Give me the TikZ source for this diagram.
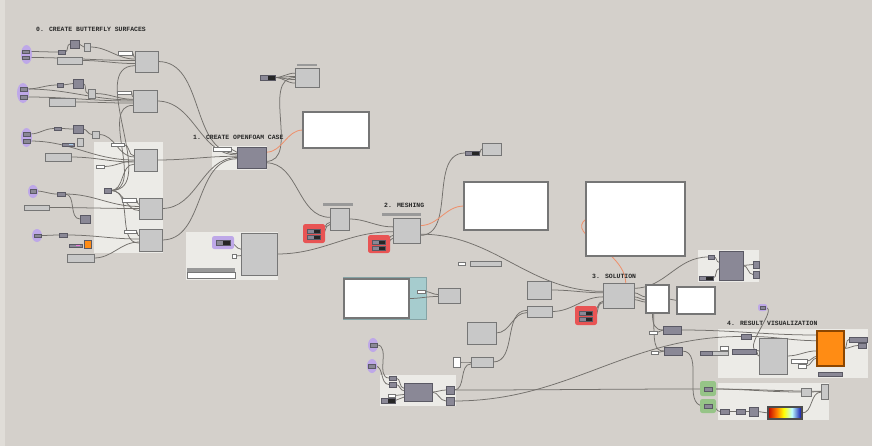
\documentclass[tikz,border=0pt]{standalone}
\usepackage{fontspec}
\newfontfamily\ghfont{Liberation Mono}
\usetikzlibrary{fit,calc}
\definecolor{CanvasGray}{RGB}{212,208,203}
\definecolor{CanvasEdge}{RGB}{224,221,216}
\definecolor{GroupWhite}{RGB}{236,235,231}
\definecolor{CompGray}{RGB}{200,200,200}
\definecolor{CompEdge}{RGB}{118,118,118}
\definecolor{ParamDark}{RGB}{138,136,150}
\definecolor{ParamEdge}{RGB}{90,89,100}
\definecolor{WireGray}{RGB}{115,112,108}
\definecolor{WireOrange}{RGB}{238,144,108}
\definecolor{HiPurple}{RGB}{190,168,232}
\definecolor{HiRed}{RGB}{232,84,84}
\definecolor{HiGreen}{RGB}{150,196,135}
\definecolor{ScriptTeal}{RGB}{166,204,206}
\definecolor{PreviewOrange}{RGB}{255,140,20}
\definecolor{TipBlue}{RGB}{170,210,240}
\definecolor{TipPink}{RGB}{240,120,220}
\pgfdeclarehorizontalshading{heatmap}{100bp}{color(0bp)=(red!75!black); color(25bp)=(red!75!black); color(38bp)=(orange); color(48bp)=(yellow); color(60bp)=(cyan!25); color(75bp)=(blue!65!black); color(100bp)=(blue!65!black)}
\pgfdeclarelayer{panels}
\pgfdeclarelayer{wires}
\pgfsetlayers{panels,wires,main}

\begin{document}
\begin{tikzpicture}[x=.03cm,y=-.03cm,
  box/.style={inner sep=0,outer sep=0,line width=.7pt},
  comp/.style={box,draw=CompEdge,fill=CompGray},
  dark/.style={box,draw=ParamEdge,fill=ParamDark},
  toggle/.style={dark,path picture={\fill[black!85] (path picture bounding box.north) rectangle (path picture bounding box.south east);}},
  field/.style={box,draw=CompEdge,fill=white},
  panel/.style={box,draw=CompEdge,fill=white,line width=.9pt},
  tagbar/.style={box,fill=black!40},
  group/.style={box,fill=GroupWhite},
  hilite/.style={box,fill=#1,rounded corners=2pt},
  wire/.style={draw=WireGray,line width=.65pt},
  owire/.style={draw=WireOrange,line width=.7pt},
  title/.style={inner sep=0,anchor=west,text=black!85,font=\ghfont\bfseries\fontsize{5.5}{6}\selectfont}]
\useasboundingbox (0,0) rectangle (872,446);

% canvas and groups
\begin{pgfonlayer}{panels}
  \fill[CanvasGray] (0,0) rectangle (872,446);
  \fill[CanvasEdge] (0,0) rectangle (5,446);
  \foreach \n/\xa/\ya/\xb/\yb in {grpA/94/142/163/253, grpC/212/146/267/170, grpL/186/232/278/280,
      grpS/698/250/759/282, grpR/718/329/868/378, grpG/718/383/829/420, grpW/380/375/456/406}
    \node[group,fit={(\xa,\ya)(\xb,\yb)}] (\n) {};
  \node[box,fill=ScriptTeal,draw=ScriptTeal!80!black,fit={(343,277)(426,319)}] (teal) {};
\end{pgfonlayer}

% titles
\node[title] (t0) at (36,29) {0. CREATE BUTTERFLY SURFACES};
\node[title] (t1) at (193,137) {1. CREATE OPENFOAM CASE};
\node[title] (t2) at (384,205) {2. MESHING};
\node[title] (t3) at (592,276) {3. SOLUTION};
\node[title] (t4) at (727,323) {4. RESULT VISUALIZATION};

% highlighted params
\foreach \x/\y/\rx/\ry in {26.5/54.5/5.5/9.5, 23/93/6/10, 26.5/137.5/5.5/9.5, 33/191.5/5/6.5,
    37/235.5/5/6.5, 373/345/5/7, 372/366/5/7}
  \fill[HiPurple] (\x,\y) ellipse [x radius=\rx, y radius=\ry];
\foreach \n/\c/\xa/\ya/\xb/\yb in {red1/HiRed/303/224/325/243, red2/HiRed/368/235/390/253,
    red3/HiRed/575/306/597/325, llhi/HiPurple/212/236/234/249, phi/HiPurple/758/304/767/311,
    grn1/HiGreen/700/381/716/396, grn2/HiGreen/700/399/716/413}
  \node[hilite=\c,fit={(\xa,\ya)(\xb,\yb)}] (\n) {};

% components
\foreach \n/\xa/\ya/\xb/\yb in {surf1/135/51/158/72, surf2/133/90/157/112, surf3/134/149/157/171,
    surf4/139/198/162/219, surf5/139/229/162/251, lt1/84/43/90/51, lt2/88/89/95/98, lt3/92/131/99/138,
    lt3b/77/138/83/146, lg1/57/57/82/64, lg2/49/98/75/106, lg3/45/153/71/161, lg4/24/205/49/210,
    lg5/67/254/94/262, tlt/295/68/319/87, bigLL/241/233/277/275, prep/330/208/349/230,
    mesh/393/218/420/243, mlt/482/143/501/155, lnum/470/261/501/266, tbox/438/288/460/303,
    s1/527/281/551/299, s2/527/306/552/317, s3/467/322/496/344, s4/471/357/493/367,
    sol/603/283/634/308, rbig/759/338/787/374, gl/801/388/811/396, gt/821/384/828/399,
    rdlb/712/351/728/355}
  \node[comp,fit={(\xa,\ya)(\xb,\yb)}] (\n) {};
\foreach \n/\xa/\ya/\xb/\yb in {e1a/22/50/29/53, e1b/22/56/29/59, sb1/58/50/65/54, dk1/70/40/79/48,
    e2a/20/87/27/91, e2b/20/95/27/99, sb2/57/83/63/87, dk2/73/79/83/88,
    e3a/23/132/30/136, e3b/23/139/30/143, sb3/54/127/61/130, dk3/73/125/83/133, tg3/62/143/74/146,
    sdk/104/188/111/193, e4a/30/189/36/193, sb4/57/192/65/196, dk4/80/215/90/223,
    e5a/34/234/41/237, sb5/59/233/67/237, tg5/69/244/82/247, case/237/147/266/168,
    sdk1/708/255/714/259, sdkb/719/251/743/280, so1/753/261/759/268, so2/753/271/759/278,
    e6a/370/343/377/347, e7a/368/364/375/368, li1/389/376/396/380, li2/389/382/396/387,
    ldk/404/383/432/401, lo1/446/386/454/394, lo2/446/397/454/405, pb/760/306/765/309,
    rd1/663/326/681/334, rd2/664/347/682/355, rsm/741/334/751/339, rlong/732/349/756/354,
    rdl/700/351/712/355, ro1/849/337/867/342, ro2/858/343/866/348, rbar/818/372/842/376,
    g1b/704/387/712/391, g2b/704/404/712/408, gd1/720/409/729/414, gd2/736/409/745/414,
    gd3/749/407/758/416}
  \node[dark,fit={(\xa,\ya)(\xb,\yb)}] (\n) {};
\foreach \n/\xa/\ya/\xb/\yb in {tdk/260/75/275/80, r1a/307/229/320/233, r1b/307/235/320/239,
    r2a/372/240/385/244, r2b/372/246/385/250, r3a/579/311/592/315, r3b/579/317/592/321,
    mdk/465/151/479/155, sblk/699/276/713/280, lblk/381/398/395/403, llp/216/240/230/245}
  \node[toggle,fit={(\xa,\ya)(\xb,\yb)}] (\n) {};
\foreach \n/\xa/\ya/\xb/\yb in {wb1/118/51/132/55, wb2/117/91/131/94, wb3/111/143/124/146,
    wb3b/96/165/104/168, wb4/122/198/136/202, wb5/124/230/136/233, wbc/213/147/231/151,
    wsq/232/254/236/258, llfield/187/272/235/278, wsm/458/262/465/265, wst/417/290/425/293,
    s4w/453/357/460/367, rw1/649/331/657/334, rw2/651/351/658/354, rw3/720/346/728/350,
    rwb1/791/359/807/363, rwb2/798/364/806/368, lw/388/394/395/397}
  \node[field,fit={(\xa,\ya)(\xb,\yb)}] (\n) {};
\foreach \n/\xa/\ya/\xb/\yb in {pan1/303/112/369/148, pan2/464/182/548/230, pan3/586/182/685/256,
    wbx1/646/285/669/313, wbx2/677/287/715/314, tpan/344/279/409/318}
  \node[panel,fit={(\xa,\ya)(\xb,\yb)}] (\n) {};
\foreach \n/\xa/\ya/\xb/\yb in {tbar/297/64/317/66, pbar/323/203/353/206, mbar/382/213/421/216,
    llhdr/187/268/235/272}
  \node[tagbar,fit={(\xa,\ya)(\xb,\yb)}] (\n) {};
\node[box,fill=TipBlue,fit={(69,143.8)(73,145.2)}] (tg3tip) {};
\node[box,fill=TipPink,fit={(76,244.8)(80,246.2)}] (tg5tip) {};
\node[box,fill=PreviewOrange,draw=ParamEdge,fit={(84,240)(91,248)}] (osq) {};
\node[box,fill=PreviewOrange,draw=orange!55!black,line width=.9pt,fit={(817,331)(844,366)}] (orb) {};
\node[box,draw=black!70,line width=1.2pt,shading=heatmap,fit={(768,407)(802,419)}] (grad) {};

% wires
\begin{pgfonlayer}{wires}
  \foreach \a/\b in {e1a.east/sb1.west, sb1.east/dk1.west, dk1.east/lt1.west, e1b.east/surf1.175,
      lg1.east/surf1.190, wb1.east/surf1.160, lt1.east/surf1.168,
      e2a.east/sb2.west, sb2.east/dk2.west, dk2.east/lt2.west, lt2.east/surf2.172, e2b.east/surf2.180,
      lg2.east/surf2.190, wb2.east/surf2.160, e2a.east/surf2.175,
      e3a.east/sb3.west, sb3.east/dk3.west, dk3.east/lt3.west, lt3.east/surf3.165, e3b.east/surf3.180,
      lg3.east/surf3.190, wb3.east/surf3.160, wb3b.east/surf3.185,
      sdk.east/surf1.200, sdk.east/surf2.200, sdk.east/surf3.200, sdk.east/surf4.190, sdk.east/surf5.195,
      e4a.east/sb4.west, sb4.east/dk4.west, sb4.east/surf4.170, lg4.east/surf4.180, wb4.east/surf4.160,
      e5a.east/sb5.west, sb5.east/surf5.175, lg5.east/surf5.190, wb5.east/surf5.160,
      surf1.east/case.165, surf2.east/case.170, surf3.east/case.175, surf4.east/case.180,
      surf5.east/case.185, wbc.east/case.160, case.340/prep.170, case.345/tlt.180,
      tdk.east/tlt.160, tdk.east/tlt.175, tdk.east/tlt.190, tdk.east/tlt.205,
      r1a.east/prep.200, r1b.east/prep.210, prep.east/mesh.165, bigLL.east/mesh.185,
      r2a.east/mesh.200, r2b.east/mesh.210, llp.east/bigLL.165, wsq.east/bigLL.185,
      mesh.340/mdk.west, mdk.east/mlt.west, mesh.345/sol.165,
      wst.east/tbox.175, tpan.east/tbox.185,
      s1.east/sol.170, s2.east/sol.185, r3a.east/sol.200, r3b.east/sol.205, s3.east/s2.185,
      s4.east/s2.175, s4w.east/s4.west, lo1.east/s4.190,
      sol.10/wbx1.170, sol.355/wbx1.185, sol.345/wbx1.195, wbx1.east/wbx2.west, sol.25/sdk1.west,
      sdk1.east/sdkb.165, sblk.east/sdkb.195, sdkb.east/so1.west, sdkb.east/so2.west,
      e6a.east/li1.west, e7a.east/li2.west, li1.east/ldk.165, li2.east/ldk.175, lw.east/ldk.190,
      lblk.east/ldk.200, ldk.east/lo1.west, ldk.east/lo2.west, lo1.east/g1b.west, lo2.east/rsm.west,
      rw1.east/rd1.west, rw2.east/rd2.west, rd1.east/orb.135, rsm.east/orb.150, rlong.east/rbig.west,
      rbig.east/orb.190, rwb1.east/orb.210, rwb2.east/orb.215, orb.east/ro1.west, orb.east/ro2.west,
      rd2.east/g2b.west, g1b.east/gl.west, g1b.east/gt.175, gl.east/gt.180, g2b.east/gd1.west,
      gd1.east/gd2.west, gd2.east/gd3.west, gd3.east/grad.west, grad.east/gt.190}
    \draw[wire] (\a) to[out=0,in=180] (\b);
  \foreach \a/\b in {case.20/pan1.west, mesh.20/pan2.west}
    \draw[owire] (\a) to[out=0,in=180] (\b);
  \draw[owire] (sol.60) .. controls (625,250) and (565,235) .. (pan3.west);
  \draw[wire] (wbx1.250) .. controls +(0,12) and +(-8,0) .. (rd1.west);
  \draw[wire] (wbx1.255) .. controls +(0,30) and +(-10,0) .. (rd2.west);
  \draw[wire] (pb.east) .. controls +(15,0) and +(-20,0) .. (rbig.160);
\end{pgfonlayer}
\end{tikzpicture}
\end{document}
